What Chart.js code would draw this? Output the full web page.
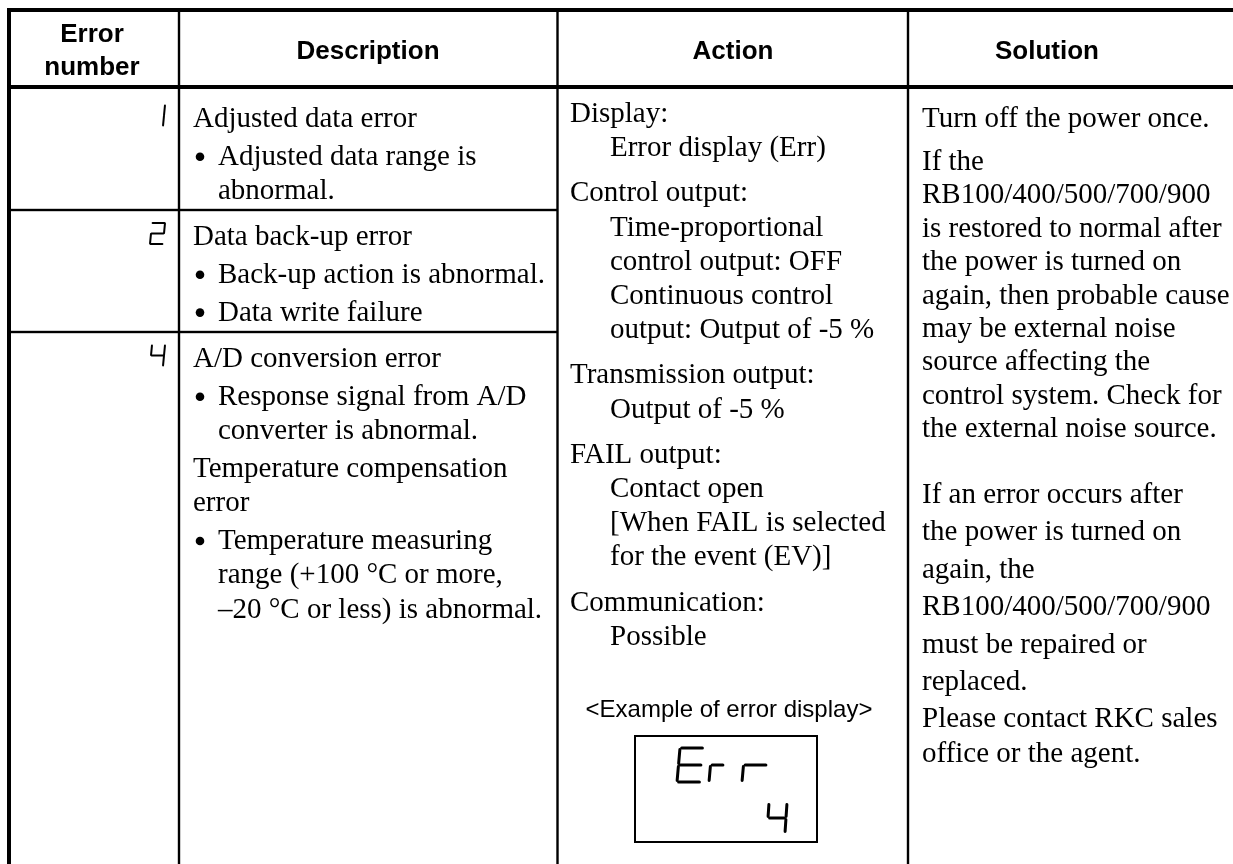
<!DOCTYPE html>
<html lang="en">
<head>
    <meta charset="UTF-8">
    <meta name="viewport" content="width=device-width, initial-scale=1.0">
    <title>Error number table</title>
    <script src="https://cdn.jsdelivr.net/npm/chart.js"></script>
    <style>
        body {
            margin: 0;
            padding: 0;
            background-color: #ffffff;
        }
        canvas {
            display: block;
        }
    </style>
</head>
<body>
    <canvas id="myChart" width="1233" height="864"></canvas>

    <script>
        // table content
        const headerLabels = [['Error', 'number'], ['Description'], ['Action'], ['Solution']];
        const errorNumbers = ['1', '2', '4'];
        const descriptions = [
            [['Adjusted data error'], ['• Adjusted data range is', '  abnormal.']],
            [['Data back-up error'], ['• Back-up action is abnormal.'], ['• Data write failure']],
            [['A/D conversion error'], ['• Response signal from A/D', '  converter is abnormal.'],
             ['Temperature compensation', 'error'],
             ['• Temperature measuring', '  range (+100 °C or more,', '  –20 °C or less) is abnormal.']]
        ];
        const actionLines = [
            ['Display:', '  Error display (Err)'],
            ['Control output:', '  Time-proportional', '  control output: OFF', '  Continuous control', '  output: Output of -5 %'],
            ['Transmission output:', '  Output of -5 %'],
            ['FAIL output:', '  Contact open', '  [When FAIL is selected', '  for the event (EV)]'],
            ['Communication:', '  Possible']
        ];
        const solutionLines = [
            ['Turn off the power once.'],
            ['If the', 'RB100/400/500/700/900', 'is restored to normal after', 'the power is turned on',
             'again, then probable cause', 'may be external noise', 'source affecting the',
             'control system. Check for', 'the external noise source.'],
            ['If an error occurs after', 'the power is turned on', 'again, the', 'RB100/400/500/700/900',
             'must be repaired or', 'replaced.'],
            ['Please contact RKC sales', 'office or the agent.']
        ];
        const exampleCaption = '<Example of error display>';
        const exampleCode = ['E', 'r', 'r'];
        const exampleSub = '4';

        // layout (page units, mapped through the chart scales)
        const grid = {
            colX: [9, 179, 557.5, 908],
            right: 1233, top: 10, head: 87, rows: [210, 332], bottom: 864,
            thick: 4, thin: 2.4
        };
        const headCx = [92, 368, 733, 1047];
        const descCell = { x: 193, bulletX: 200, indentX: 218, first: [127, 245, 367], step: 34.3, gap: 3.5 };
        const actionCell = { x: 570, indentX: 610, first: 122, step: 34.2, gap: 11 };
        const solutionCell = { x: 922, tops: [127, 170, 503, 727], steps: [33.4, 33.4, 37.4, 35] };
        const displayBox = { x1: 635, y1: 736, x2: 817, y2: 842, captionX: 729, captionY: 717 };

        const SERIF = '29px "Liberation Serif", "Times New Roman", serif';
        const SEGMENTS = { '1': 'bc', '2': 'abged', '4': 'fgbc', 'E': 'afged', 'r': 'eg' };

        function drawSegChar(ctx, ch, x0, y0, w, h, lw, slant, gap) {
            const pt = (fx, fy) => [x0 + fx * w + slant * (1 - fy), y0 + fy * h];
            const seg = {
                a: [[0, 0], [1, 0]], b: [[1, 0], [1, 0.5]], c: [[1, 0.5], [1, 1]],
                d: [[0, 1], [1, 1]], e: [[0, 0.5], [0, 1]], f: [[0, 0], [0, 0.5]], g: [[0, 0.5], [1, 0.5]]
            };
            ctx.save();
            ctx.lineWidth = lw;
            ctx.lineCap = 'round';
            ctx.strokeStyle = '#000';
            for (const s of SEGMENTS[ch]) {
                const [p, q] = seg[s];
                const a = pt(p[0], p[1]);
                const b = pt(q[0], q[1]);
                const dx = b[0] - a[0], dy = b[1] - a[1];
                const len = Math.hypot(dx, dy);
                const k = Math.min(gap, len / 4) / len;
                ctx.beginPath();
                ctx.moveTo(a[0] + dx * k, a[1] + dy * k);
                ctx.lineTo(b[0] - dx * k, b[1] - dy * k);
                ctx.stroke();
            }
            ctx.restore();
        }

        const tablePlugin = {
            id: 'errorTable',
            beforeDraw(chart) {
                const ctx = chart.ctx;
                ctx.save();
                ctx.fillStyle = '#ffffff';
                ctx.fillRect(0, 0, chart.width, chart.height);
                ctx.restore();
            },
            afterDraw(chart) {
                const ctx = chart.ctx;
                const xs = chart.scales.x, ys = chart.scales.y;
                const px = v => xs.getPixelForValue(v);
                const py = v => ys.getPixelForValue(v);
                ctx.save();
                ctx.fillStyle = '#000';

                // grid lines
                const hLine = (x1, x2, yc, w) => ctx.fillRect(px(x1), py(yc) - w / 2, px(x2) - px(x1), w);
                const vLine = (xc, y1, y2, w) => ctx.fillRect(px(xc) - w / 2, py(y1), w, py(y2) - py(y1));
                hLine(grid.colX[0] - grid.thick / 2, grid.right, grid.top, grid.thick);
                hLine(grid.colX[0] - grid.thick / 2, grid.right, grid.head, grid.thick);
                vLine(grid.colX[0], grid.top - grid.thick / 2, grid.bottom, grid.thick);
                for (let i = 1; i < grid.colX.length; i++) {
                    vLine(grid.colX[i], grid.top, grid.bottom, grid.thin);
                }
                grid.rows.forEach(r => hLine(grid.colX[0], grid.colX[2], r, grid.thin));

                // headers
                ctx.font = 'bold 26px "Liberation Sans", Arial, sans-serif';
                ctx.textAlign = 'center';
                ctx.textBaseline = 'alphabetic';
                headerLabels.forEach((lines, i) => {
                    const base = lines.length === 2 ? [42, 75] : [59];
                    lines.forEach((t, j) => ctx.fillText(t, px(headCx[i]), py(base[j])));
                });

                ctx.textAlign = 'left';
                ctx.font = SERIF;

                // error numbers (seven-segment style)
                errorNumbers.forEach((d, i) => {
                    const top = descCell.first[i] - 22;
                    drawSegChar(ctx, d, px(150), py(top), 13, 21, 2, 2, 0.6);
                });

                // descriptions
                const bullet = (x, y) => {
                    ctx.beginPath();
                    ctx.arc(px(x), py(y) - 8, 4.3, 0, Math.PI * 2);
                    ctx.fill();
                };
                descriptions.forEach((paras, i) => {
                    let y = descCell.first[i];
                    paras.forEach((lines, pi) => {
                        if (pi > 0) y += descCell.gap;
                        lines.forEach(line => {
                            let x = descCell.x, t = line;
                            if (t.startsWith('• ')) {
                                bullet(descCell.bulletX, y);
                                x = descCell.indentX; t = t.slice(2);
                            } else if (t.startsWith('  ')) {
                                x = descCell.indentX; t = t.slice(2);
                            }
                            ctx.fillText(t, px(x), py(y));
                            y += descCell.step;
                        });
                    });
                });

                // action
                let ay = actionCell.first;
                actionLines.forEach((lines, pi) => {
                    if (pi > 0) ay += actionCell.gap;
                    lines.forEach(line => {
                        const ind = line.startsWith('  ');
                        ctx.fillText(ind ? line.slice(2) : line, px(ind ? actionCell.indentX : actionCell.x), py(ay));
                        ay += actionCell.step;
                    });
                });

                // solution
                solutionLines.forEach((lines, pi) => {
                    lines.forEach((line, li) => {
                        const y = solutionCell.tops[pi] + li * solutionCell.steps[pi];
                        ctx.fillText(line, px(solutionCell.x), py(y));
                    });
                });

                // example of error display
                ctx.font = '24px "Liberation Sans", Arial, sans-serif';
                ctx.textAlign = 'center';
                ctx.fillText(exampleCaption, px(displayBox.captionX), py(displayBox.captionY));
                ctx.lineWidth = 2;
                ctx.strokeStyle = '#000';
                ctx.strokeRect(px(displayBox.x1), py(displayBox.y1),
                    px(displayBox.x2) - px(displayBox.x1), py(displayBox.y2) - py(displayBox.y1));
                const codeX = [677, 709, 742];
                const codeW = [24, 14, 24];
                exampleCode.forEach((c, i) => drawSegChar(ctx, c, px(codeX[i]), py(748), codeW[i], 34, 3, 3, 1.6));
                drawSegChar(ctx, exampleSub, px(767), py(803), 18, 30, 3, 2, 1.6);

                ctx.restore();
            }
        };

        new Chart(document.getElementById('myChart'), {
            type: 'scatter',
            data: { datasets: [] },
            options: {
                responsive: false,
                devicePixelRatio: 1,
                animation: false,
                layout: { padding: 0 },
                plugins: {
                    legend: { display: false },
                    tooltip: { enabled: false }
                },
                scales: {
                    x: { type: 'linear', min: 0, max: 1233, display: false },
                    y: { type: 'linear', min: 0, max: 864, reverse: true, display: false }
                }
            },
            plugins: [tablePlugin]
        });
    </script>
</body>
</html>
